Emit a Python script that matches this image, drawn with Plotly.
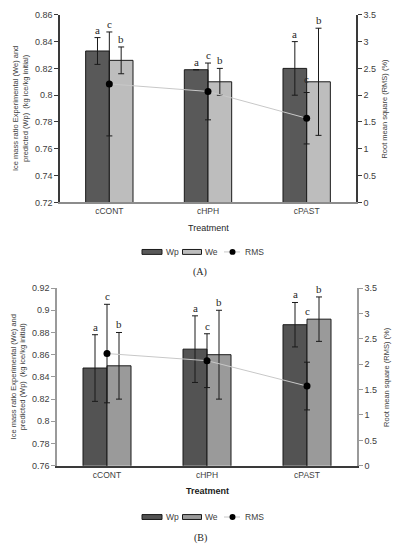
import plotly.graph_objects as go
from plotly.subplots import make_subplots

categories = ["cCONT", "cHPH", "cPAST"]

# Panel A
a_wp = [0.833, 0.819, 0.820]
a_wp_err = [0.010, 0.0, 0.020]
a_we = [0.826, 0.810, 0.810]
a_we_err = [0.010, 0.010, 0.040]
a_rms = [2.21, 2.07, 1.57]
a_rms_err = [0.97, 0.53, 0.48]

# Panel B
b_wp = [0.848, 0.865, 0.887]
b_wp_err = [0.030, 0.030, 0.020]
b_we = [0.850, 0.860, 0.892]
b_we_err = [0.030, 0.040, 0.020]
b_rms = [2.21, 2.07, 1.57]
b_rms_err = [0.97, 0.53, 0.47]

letters_wp = ["a", "a", "a"]
letters_we = ["b", "b", "b"]
letters_rms = ["c", "c", "c"]

a_left_ticks = [0.72, 0.74, 0.76, 0.78, 0.80, 0.82, 0.84, 0.86]
a_left_text = ["0.72", "0.74", "0.76", "0.78", "0.8", "0.82", "0.84", "0.86"]
b_left_ticks = [0.76, 0.78, 0.80, 0.82, 0.84, 0.86, 0.88, 0.90, 0.92]
b_left_text = ["0.76", "0.78", "0.8", "0.82", "0.84", "0.86", "0.88", "0.9", "0.92"]
right_ticks = [0, 0.5, 1, 1.5, 2, 2.5, 3, 3.5]
right_text = ["0", "0.5", "1", "1.5", "2", "2.5", "3", "3.5"]

W, H = 397, 550
SANS = "Liberation Sans"
SERIF = "Liberation Serif"
TXT = "#404040"

fig = make_subplots(rows=2, cols=1, specs=[[{"secondary_y": True}], [{"secondary_y": True}]])

panels = [
    dict(row=1, wp=a_wp, wpe=a_wp_err, we=a_we, wee=a_we_err, rms=a_rms, rmse=a_rms_err,
         wpc="#595959", wec="#bdbdbd", xa="x", ya="y", ya2="y2", leg_y=251.5),
    dict(row=2, wp=b_wp, wpe=b_wp_err, we=b_we, wee=b_we_err, rms=b_rms, rmse=b_rms_err,
         wpc="#535353", wec="#9a9a9a", xa="x2", ya="y3", ya2="y4", leg_y=521.5),
]

for p in panels:
    r = p["row"]
    fig.add_trace(go.Bar(x=categories, y=p["wp"], name="Wp", showlegend=False,
                         marker=dict(color=p["wpc"], line=dict(color="#1a1a1a", width=1)),
                         error_y=dict(type="data", array=p["wpe"], color="#1a1a1a", thickness=1, width=3)),
                  row=r, col=1, secondary_y=False)
    fig.add_trace(go.Bar(x=categories, y=p["we"], name="We", showlegend=False,
                         marker=dict(color=p["wec"], line=dict(color="#1a1a1a", width=1)),
                         error_y=dict(type="data", array=p["wee"], color="#1a1a1a", thickness=1, width=3)),
                  row=r, col=1, secondary_y=False)
    fig.add_trace(go.Scatter(x=categories, y=p["rms"], name="RMS", mode="lines+markers", showlegend=False,
                             line=dict(color="#c8c8c8", width=1),
                             marker=dict(color="black", size=7),
                             error_y=dict(type="data", array=p["rmse"], color="#1a1a1a", thickness=1, width=3)),
                  row=r, col=1, secondary_y=True)

    # significance letters
    for i, c in enumerate(categories):
        fig.add_annotation(x=c, y=p["wp"][i] + p["wpe"][i], xref=p["xa"], yref=p["ya"], text=letters_wp[i],
                           showarrow=False, xanchor="center", yanchor="bottom", xshift=-12, yshift=0,
                           font=dict(family=SERIF, size=11, color="#262626"))
        fig.add_annotation(x=c, y=p["we"][i] + p["wee"][i], xref=p["xa"], yref=p["ya"], text=letters_we[i],
                           showarrow=False, xanchor="center", yanchor="bottom", xshift=12, yshift=0,
                           font=dict(family=SERIF, size=11, color="#262626"))
        extra = 0
        if i == 2:
            extra = 6 if r == 1 else 43
        fig.add_annotation(x=c, y=p["rms"][i] + p["rmse"][i], xref=p["xa"], yref=p["ya2"], text=letters_rms[i],
                           showarrow=False, xanchor="center", yanchor="bottom", xshift=0, yshift=extra,
                           font=dict(family=SERIF, size=11, color="#262626"))

    # legend (drawn in paper space)
    ly = p["leg_y"]
    def py(v):
        return 1 - v / H
    def pxx(v):
        return v / W
    for (x0, x1, col, lab) in [(142, 162, p["wpc"], "Wp"), (182.5, 201.5, p["wec"], "We")]:
        fig.add_shape(type="rect", xref="paper", yref="paper", x0=pxx(x0), x1=pxx(x1), y0=py(ly + 2.5), y1=py(ly - 2.5),
                      fillcolor=col, line=dict(color="#1a1a1a", width=1))
        fig.add_annotation(x=pxx(x1 + 1.5), y=py(ly), xref="paper", yref="paper", text=lab, showarrow=False,
                           xanchor="left", yanchor="middle", font=dict(size=8.5, color=TXT))
    fig.add_shape(type="line", xref="paper", yref="paper", x0=pxx(224), x1=pxx(240), y0=py(ly), y1=py(ly),
                  line=dict(color="#c8c8c8", width=1))
    fig.add_shape(type="circle", xref="paper", yref="paper", x0=pxx(229.5), x1=pxx(235.5), y0=py(ly + 3), y1=py(ly - 3),
                  fillcolor="black", line=dict(color="black", width=0))
    fig.add_annotation(x=pxx(242.5), y=py(ly), xref="paper", yref="paper", text="RMS", showarrow=False,
                       xanchor="left", yanchor="middle", font=dict(size=8.5, color=TXT))

fig.update_layout(barmode="group", bargap=0.52, bargroupgap=0.0, showlegend=False,
                  width=W, height=H, margin=dict(l=0, r=0, t=0, b=0),
                  paper_bgcolor="white", plot_bgcolor="white",
                  font=dict(family=SANS, size=9, color=TXT))

def px_x(a, b):
    return [a / W, b / W]

def px_y(top, bottom):
    return [1 - bottom / H, 1 - top / H]

axA = "#3a3a3a"
axB = "#9a9a9a"

fig.update_layout(
    xaxis=dict(domain=px_x(60, 356), showline=True, linecolor="#8c8c8c", linewidth=1.5, ticks="",
               tickfont=dict(size=8.5, color=TXT), showgrid=False),
    yaxis=dict(domain=px_y(10, 201), range=[0.72, 0.86], tickvals=a_left_ticks, ticktext=a_left_text,
               showline=True, linecolor=axA, linewidth=1.5, ticks="outside", ticklen=4, tickcolor=axA,
               showgrid=False, zeroline=False, tickfont=dict(size=9, color=TXT)),
    yaxis2=dict(range=[0, 3.5], tickvals=right_ticks, ticktext=right_text, showline=True, linecolor=axA,
                linewidth=1.5, ticks="outside", ticklen=4, tickcolor=axA, showgrid=False, zeroline=False,
                tickfont=dict(size=9, color=TXT)),
    xaxis2=dict(domain=px_x(57, 357), showline=True, linecolor="#3a3a3a", linewidth=1.5, ticks="",
                tickfont=dict(size=8.5, color=TXT), showgrid=False),
    yaxis3=dict(domain=px_y(288.3, 469.3), range=[0.76, 0.92], tickvals=b_left_ticks, ticktext=b_left_text,
                showline=True, linecolor=axB, linewidth=1.5, ticks="outside", ticklen=4, tickcolor=axB,
                showgrid=False, zeroline=False, tickfont=dict(size=9, color=TXT)),
    yaxis4=dict(range=[0, 3.5], tickvals=right_ticks, ticktext=right_text, showline=True, linecolor=axB,
                linewidth=1.5, ticks="outside", ticklen=4, tickcolor=axB, showgrid=False, zeroline=False,
                tickfont=dict(size=9, color=TXT)),
)

left_title = "Ice mass ratio Experimental (We) and<br>predicted (Wp)  (kg ice/kg initial)"
for ycen, xcen in [((10 + 201) / 2, 20.5), ((288.3 + 469.3) / 2, 18.5)]:
    fig.add_annotation(x=xcen / W, y=1 - ycen / H, xref="paper", yref="paper", text=left_title,
                       xanchor="center", yanchor="middle",
                       textangle=-90, showarrow=False, font=dict(size=7.5, color=TXT))
for ycen, xcen in [((10 + 201) / 2, 385), ((288.3 + 469.3) / 2, 387)]:
    fig.add_annotation(x=xcen / W, y=1 - ycen / H, xref="paper", yref="paper", text="Root mean square (RMS) (%)",
                       xanchor="center", yanchor="middle",
                       textangle=-90, showarrow=False, font=dict(size=7.5, color=TXT))

fig.add_annotation(x=208 / W, y=1 - 227 / H, xref="paper", yref="paper", text="Treatment", showarrow=False,
                   xanchor="center", yanchor="middle", font=dict(size=9, color="#262626"))
fig.add_annotation(x=207 / W, y=1 - 495 / H, xref="paper", yref="paper", text="<b>Treatment</b>", showarrow=False,
                   xanchor="center", yanchor="middle", font=dict(size=9, color="#1a1a1a"))
fig.add_annotation(x=200 / W, y=1 - 272 / H, xref="paper", yref="paper", text="(A)", showarrow=False,
                   xanchor="center", yanchor="middle", font=dict(family=SERIF, size=10, color="#262626"))
fig.add_annotation(x=200 / W, y=1 - 543 / H, xref="paper", yref="paper", text="(B)", showarrow=False,
                   xanchor="center", yanchor="middle", font=dict(family=SERIF, size=10, color="#262626"))

fig.write_html("out.html", config={"displayModeBar": False},
               post_script="document.body.style.margin='0';document.body.style.overflow='hidden';")
